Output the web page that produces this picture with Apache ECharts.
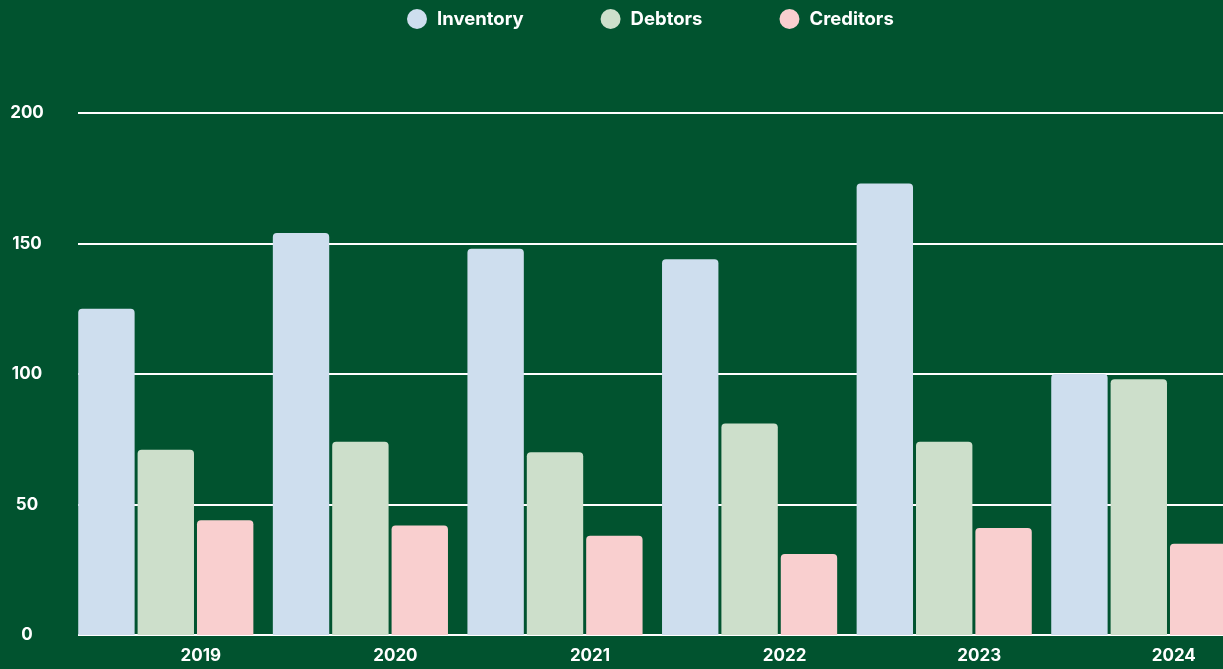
<!DOCTYPE html>
<html>
<head>
<meta charset="utf-8">
<title>Working capital</title>
<script src="https://cdn.jsdelivr.net/npm/echarts@6/dist/echarts.min.js"></script>
<style>
  html, body { margin: 0; padding: 0; background: #01532f; overflow: hidden; }
  #chart { width: 1260px; height: 669px; }
</style>
</head>
<body>
<div id="chart"></div>
<script>
// data
var years = ['2019', '2020', '2021', '2022', '2023', '2024'];
var inventory = [125, 154, 148, 144, 173, 100];
var debtors = [71, 74, 70, 81, 74, 98];
var creditors = [44, 42, 38, 31, 41, 35];
var yTicks = [0, 50, 100, 150, 200];

var font = 'Inter';
// chart is a bit wider than the window: the last group is cut off at the right edge
var myChart = echarts.init(document.getElementById('chart'));

function barSeries(name, values, color) {
    return {
        name: name,
        type: 'bar',
        xAxisIndex: 1,
        yAxisIndex: 1,
        data: values,
        barGap: '5.3%',
        barCategoryGap: '10%',
        itemStyle: { color: color, borderRadius: [4, 4, 0, 0] }
    };
}

var option = {
    backgroundColor: '#01532f',
    animation: false,
    legend: {
        left: 402,
        top: 4,
        itemWidth: 20,
        itemHeight: 20,
        itemGap: 77,
        icon: 'circle',
        textStyle: {
            color: '#ffffff',
            fontFamily: font,
            fontWeight: 'bold',
            fontSize: 18.5,
            padding: [0, 0, 0, 5]
        },
        data: ['Inventory', 'Debtors', 'Creditors']
    },
    grid: [
        { left: 78, right: 0, top: 113, bottom: 34 },
        { left: 68.5, width: 1167.6, top: 113, bottom: 34 }
    ],
    xAxis: [
        { gridIndex: 0, type: 'category', data: years, show: false },
        {
            gridIndex: 1,
            type: 'category',
            data: years,
            axisLine: { show: false },
            axisTick: { show: false },
            axisLabel: {
                color: '#ffffff',
                fontFamily: font,
                fontWeight: 'bold',
                fontSize: 17,
                margin: 12,
                padding: [0, 0, 0, 70]
            }
        }
    ],
    yAxis: [
        {
            gridIndex: 0,
            type: 'value',
            min: yTicks[0],
            max: yTicks[yTicks.length - 1],
            interval: 50,
            axisLine: { show: false },
            axisTick: { show: false },
            splitLine: { lineStyle: { color: '#ffffff', width: 2 } },
            axisLabel: {
                color: '#ffffff',
                fontFamily: font,
                fontWeight: 'bold',
                fontSize: 17,
                align: 'center',
                margin: 51
            }
        },
        {
            gridIndex: 1,
            type: 'value',
            min: yTicks[0],
            max: yTicks[yTicks.length - 1],
            interval: 50,
            show: false,
            splitLine: { show: false }
        }
    ],
    series: [
        barSeries('Inventory', inventory, '#cedeee'),
        barSeries('Debtors', debtors, '#cddfcb'),
        barSeries('Creditors', creditors, '#f9cfcf')
    ]
};

option && myChart.setOption(option);
</script>
</body>
</html>
